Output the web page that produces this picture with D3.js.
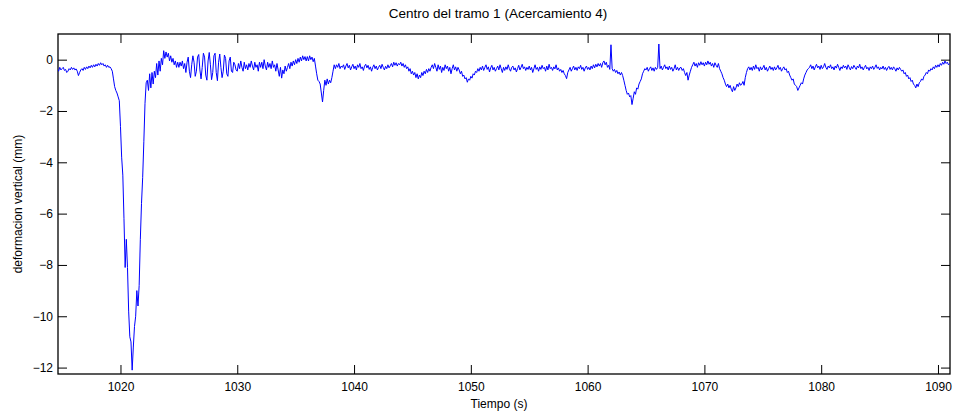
<!DOCTYPE html>
<html>
<head>
<meta charset="utf-8">
<script src="https://cdn.jsdelivr.net/npm/d3@7"></script>
<style>
  html, body { margin: 0; padding: 0; background: #fff; }
  svg text { font-family: "Liberation Sans", Arial, Helvetica, sans-serif; fill: #000; }
</style>
</head>
<body>
<div id="graf"></div>
<script>
"use strict";
// muestreo de la señal (s)
const sampleStart = 1014.6, sampleStep = 0.1;
// deformacion vertical (mm), un renglon por segundo
const deformacion = [
  -0.35,-0.45,-0.3,-0.4,                                    // 1014.6
  -0.35,-0.3,-0.42,-0.38,-0.5,-0.45,-0.35,-0.4,-0.3,-0.38,  // 1015
  -0.32,-0.4,-0.36,-0.45,-0.62,-0.5,-0.4,-0.35,-0.42,-0.3,  // 1016
  -0.38,-0.28,-0.35,-0.25,-0.32,-0.22,-0.3,-0.2,-0.28,-0.18,// 1017
  -0.25,-0.15,-0.22,-0.12,-0.2,-0.15,-0.25,-0.2,-0.3,-0.22, // 1018
  -0.3,-0.28,-0.35,-0.45,-0.75,-1.05,-1.2,-1.3,-1.45,-1.6,  // 1019
  -2.6,-3.8,-4.5,-6.2,-8.1,-7.0,-8.1,-9.8,-10.8,-11.0,      // 1020
  -12.1,-11.2,-10.4,-10.0,-9.0,-9.6,-8.8,-7.0,-5.6,-4.6,    // 1021
  -3.2,-1.7,-0.9,-0.8,-1.2,-0.55,-1.1,-0.5,-0.95,-0.45,     // 1022
  -0.7,-0.15,-0.6,-0.05,-0.45,0.05,-0.2,0.35,0.05,0.3,      // 1023
  0.1,0.25,-0.05,0.15,-0.1,0.05,-0.2,-0.05,-0.3,-0.1,       // 1024
  -0.3,-0.1,-0.25,-0.05,-0.35,-0.15,-0.5,-0.1,0.1,-0.45,    // 1025
  -0.7,-0.2,0.15,-0.1,-0.65,-0.45,0.1,0.2,-0.4,-0.75,       // 1026
  -0.3,0.25,0.1,-0.6,-0.8,-0.05,0.28,-0.2,-0.78,-0.5,       // 1027
  0.15,0.25,-0.5,-0.82,-0.1,0.22,-0.3,-0.7,-0.45,0.18,      // 1028
  0.05,-0.55,-0.65,-0.05,0.1,-0.45,-0.5,-0.1,-0.2,-0.4,     // 1029
  -0.45,-0.15,-0.35,-0.05,-0.3,-0.45,-0.1,-0.35,-0.2,-0.4,  // 1030
  -0.15,-0.3,-0.05,-0.25,-0.4,-0.1,-0.3,-0.2,-0.45,-0.1,    // 1031
  -0.3,-0.1,-0.35,0.0,-0.25,-0.4,-0.1,-0.3,-0.15,-0.35,     // 1032
  -0.05,-0.3,-0.2,-0.45,-0.15,-0.4,-0.65,-0.3,-0.72,-0.4,   // 1033
  -0.55,-0.25,-0.45,-0.3,-0.15,-0.35,-0.1,-0.25,-0.05,-0.2, // 1034
  0.0,-0.15,0.05,-0.1,0.1,-0.05,0.15,0.0,0.12,-0.05,        // 1035
  0.12,-0.05,0.15,0.0,0.1,-0.08,0.05,-0.25,-0.55,-0.8,      // 1036
  -0.85,-0.95,-1.3,-1.65,-1.2,-0.8,-1.0,-0.75,-0.95,-0.8,   // 1037
  -0.9,-0.7,-0.45,-0.2,-0.35,-0.2,-0.3,-0.15,-0.35,-0.25,   // 1038
  -0.3,-0.2,-0.38,-0.25,-0.15,-0.32,-0.22,-0.4,-0.28,-0.18, // 1039
  -0.35,-0.25,-0.4,-0.2,-0.3,-0.15,-0.35,-0.28,-0.42,-0.25, // 1040
  -0.18,-0.32,-0.22,-0.38,-0.28,-0.45,-0.3,-0.2,-0.35,-0.25,// 1041
  -0.4,-0.3,-0.22,-0.35,-0.18,-0.3,-0.4,-0.26,-0.35,-0.2,   // 1042
  -0.32,-0.24,-0.15,-0.28,-0.1,-0.22,-0.12,-0.25,-0.15,-0.2,// 1043
  -0.1,-0.25,-0.15,-0.3,-0.2,-0.35,-0.28,-0.45,-0.35,-0.55, // 1044
  -0.45,-0.6,-0.5,-0.7,-0.55,-0.75,-0.6,-0.7,-0.5,-0.62,    // 1045
  -0.45,-0.55,-0.38,-0.5,-0.35,-0.45,-0.3,-0.2,-0.35,-0.15, // 1046
  -0.3,-0.45,-0.2,-0.38,-0.25,-0.5,-0.3,-0.42,-0.2,-0.35,   // 1047
  -0.25,-0.45,-0.3,-0.55,-0.35,-0.2,-0.4,-0.28,-0.45,-0.3,  // 1048
  -0.4,-0.55,-0.45,-0.65,-0.6,-0.75,-0.7,-0.88,-0.75,-0.8,  // 1049
  -0.65,-0.72,-0.55,-0.6,-0.45,-0.5,-0.35,-0.45,-0.3,-0.4,  // 1050
  -0.25,-0.42,-0.3,-0.2,-0.38,-0.28,-0.48,-0.32,-0.22,-0.4, // 1051
  -0.3,-0.45,-0.35,-0.25,-0.4,-0.2,-0.35,-0.5,-0.3,-0.42,   // 1052
  -0.28,-0.38,-0.2,-0.35,-0.45,-0.3,-0.25,-0.4,-0.32,-0.48, // 1053
  -0.35,-0.22,-0.4,-0.3,-0.18,-0.35,-0.28,-0.42,-0.3,-0.38, // 1054
  -0.25,-0.4,-0.3,-0.5,-0.35,-0.2,-0.38,-0.3,-0.45,-0.28,   // 1055
  -0.38,-0.22,-0.35,-0.3,-0.45,-0.25,-0.4,-0.18,-0.35,-0.3, // 1056
  -0.42,-0.28,-0.36,-0.2,-0.4,-0.32,-0.45,-0.38,-0.5,-0.42, // 1057
  -0.55,-0.62,-0.74,-0.5,-0.4,-0.3,-0.45,-0.35,-0.25,-0.4,  // 1058
  -0.3,-0.42,-0.28,-0.35,-0.22,-0.38,-0.3,-0.45,-0.32,-0.25,// 1059
  -0.38,-0.3,-0.4,-0.25,-0.35,-0.2,-0.32,-0.18,-0.28,-0.15, // 1060
  -0.25,-0.15,-0.3,-0.12,-0.05,-0.2,-0.1,-0.3,-0.22,-0.38,  // 1061
  0.58,-0.35,-0.45,-0.38,-0.5,-0.42,-0.55,-0.48,-0.6,-0.5,  // 1062
  -0.62,-0.8,-1.0,-1.2,-1.35,-1.3,-1.45,-1.4,-1.75,-1.5,    // 1063
  -1.25,-1.35,-1.1,-1.15,-0.95,-0.85,-0.75,-0.55,-0.45,-0.35,// 1064
  -0.4,-0.3,-0.45,-0.35,-0.28,-0.42,-0.32,-0.45,-0.3,-0.38, // 1065
  -0.3,0.61,-0.35,-0.25,-0.4,-0.3,-0.2,-0.35,-0.28,-0.4,    // 1066
  -0.25,-0.38,-0.3,-0.45,-0.35,-0.2,-0.4,-0.3,-0.42,-0.32,  // 1067
  -0.3,-0.42,-0.35,-0.5,-0.62,-0.5,-0.8,-0.6,-0.45,-0.3,    // 1068
  -0.2,-0.1,-0.25,-0.15,-0.3,-0.12,-0.22,-0.08,-0.2,-0.12,  // 1069
  -0.25,-0.1,-0.2,-0.05,-0.18,-0.1,-0.25,-0.15,-0.3,-0.12,  // 1070
  -0.22,-0.3,-0.15,-0.35,-0.45,-0.55,-0.7,-0.8,-0.95,-1.05, // 1071
  -0.95,-1.1,-1.0,-1.15,-1.25,-1.05,-1.2,-1.1,-0.95,-1.05,  // 1072
  -0.9,-1.0,-0.95,-0.85,-1.0,-0.7,-0.5,-0.35,-0.28,-0.4,    // 1073
  -0.3,-0.42,-0.25,-0.38,-0.2,-0.35,-0.3,-0.45,-0.28,-0.4,  // 1074
  -0.32,-0.22,-0.4,-0.3,-0.45,-0.35,-0.25,-0.38,-0.3,-0.42, // 1075
  -0.28,-0.4,-0.32,-0.22,-0.38,-0.3,-0.45,-0.35,-0.28,-0.4, // 1076
  -0.35,-0.5,-0.45,-0.6,-0.7,-0.8,-0.75,-0.95,-1.0,-1.05,   // 1077
  -1.2,-1.1,-1.0,-0.9,-0.95,-0.75,-0.6,-0.5,-0.4,-0.35,     // 1078
  -0.3,-0.2,-0.35,-0.25,-0.4,-0.28,-0.18,-0.32,-0.25,-0.38, // 1079
  -0.22,-0.35,-0.28,-0.15,-0.3,-0.38,-0.25,-0.32,-0.2,-0.35,// 1080
  -0.28,-0.4,-0.25,-0.33,-0.18,-0.3,-0.42,-0.28,-0.35,-0.22,// 1081
  -0.32,-0.25,-0.38,-0.2,-0.3,-0.4,-0.27,-0.35,-0.22,-0.3,  // 1082
  -0.38,-0.25,-0.32,-0.18,-0.35,-0.28,-0.4,-0.3,-0.22,-0.36,// 1083
  -0.3,-0.42,-0.28,-0.35,-0.25,-0.38,-0.3,-0.2,-0.34,-0.28, // 1084
  -0.4,-0.3,-0.36,-0.25,-0.38,-0.3,-0.42,-0.32,-0.26,-0.38, // 1085
  -0.3,-0.4,-0.28,-0.35,-0.45,-0.32,-0.4,-0.3,-0.38,-0.45,  // 1086
  -0.4,-0.55,-0.5,-0.65,-0.6,-0.75,-0.7,-0.85,-0.8,-0.95,   // 1087
  -1.0,-1.1,-0.95,-1.05,-0.9,-0.85,-0.75,-0.8,-0.65,-0.6,   // 1088
  -0.5,-0.55,-0.4,-0.45,-0.35,-0.4,-0.28,-0.35,-0.22,-0.3,  // 1089
  -0.2,-0.28,-0.15,-0.22,-0.1,-0.18,-0.05,-0.15,-0.1,-0.2,  // 1090
  -0.15                                                      // 1091
];
const xTicks = [1020, 1030, 1040, 1050, 1060, 1070, 1080, 1090];
const yTicks = [-12, -10, -8, -6, -4, -2, 0];
const titulo = "Centro del tramo 1 (Acercamiento 4)";
const etiquetaX = "Tiempo (s)";
const etiquetaY = "deformacion vertical (mm)";

const width = 954, height = 412;
const margin = {top: 34, right: 4, bottom: 38, left: 58};
const w = width - margin.left - margin.right, h = height - margin.top - margin.bottom;
const tickLen = 9;

const serie = deformacion.map((v, i) => ({t: sampleStart + i * sampleStep, v: v}));

const x = d3.scaleLinear().domain([1014.65, 1091.03]).range([0, w]);
const y = d3.scaleLinear().domain([-12.25, 1]).range([h, 0]);

const svg = d3.select("#graf").append("svg")
  .attr("width", width).attr("height", height);

svg.append("defs").append("clipPath").attr("id", "recorte")
  .append("rect").attr("width", w).attr("height", h);

const g = svg.append("g").attr("transform", `translate(${margin.left},${margin.top})`);

// ejes con marcas hacia dentro, estilo matlab
function estilo(sel) {
  sel.select(".domain").remove();
  sel.selectAll("line").attr("stroke", "#000").attr("stroke-width", 1);
  sel.selectAll("text").attr("font-size", "12px");
}
g.append("g").attr("transform", `translate(0,${h})`)
  .call(d3.axisBottom(x).tickValues(xTicks).tickFormat(d3.format("d"))
    .tickSizeInner(-tickLen).tickSizeOuter(0).tickPadding(8))
  .call(estilo);
g.append("g")
  .call(d3.axisTop(x).tickValues(xTicks).tickFormat("")
    .tickSizeInner(-tickLen).tickSizeOuter(0))
  .call(estilo);
g.append("g")
  .call(d3.axisLeft(y).tickValues(yTicks).tickFormat(d3.format("d"))
    .tickSizeInner(-tickLen).tickSizeOuter(0).tickPadding(5))
  .call(estilo);
g.append("g").attr("transform", `translate(${w},0)`)
  .call(d3.axisRight(y).tickValues(yTicks).tickFormat("")
    .tickSizeInner(-tickLen).tickSizeOuter(0))
  .call(estilo);

// caja
g.append("rect").attr("width", w).attr("height", h)
  .attr("fill", "none").attr("stroke", "#000").attr("stroke-width", 1.3);

const linea = d3.line().x(d => x(d.t)).y(d => y(d.v));
g.append("path").datum(serie)
  .attr("clip-path", "url(#recorte)")
  .attr("fill", "none").attr("stroke", "#0000ff").attr("stroke-width", 1)
  .attr("stroke-linejoin", "miter")
  .attr("d", linea);

svg.append("text").attr("x", 498).attr("y", 18)
  .attr("text-anchor", "middle").attr("font-size", "13.5px").text(titulo);
svg.append("text").attr("x", 499).attr("y", 408)
  .attr("text-anchor", "middle").attr("font-size", "12px").text(etiquetaX);
svg.append("text")
  .attr("transform", `translate(22,${margin.top + h / 2}) rotate(-90)`)
  .attr("text-anchor", "middle").attr("font-size", "12px").text(etiquetaY);
</script>
</body>
</html>
